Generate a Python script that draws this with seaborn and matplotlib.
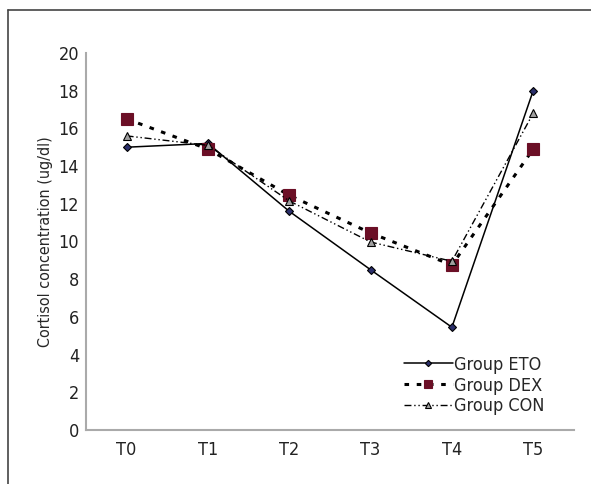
import pandas as pd
import seaborn as sns
import matplotlib.pyplot as plt
from matplotlib.lines import Line2D

# Dados
times = ["T0", "T1", "T2", "T3", "T4", "T5"]
eto = [15.0, 15.2, 11.6, 8.5, 5.45, 18.0]
dex = [16.5, 14.9, 12.45, 10.45, 8.75, 14.9]
con = [15.6, 15.1, 12.15, 9.97, 8.95, 16.8]

groups = ["Group ETO", "Group DEX", "Group CON"]
values = [eto, dex, con]

sns.set_style("white")
plt.rcParams['font.family'] = ['DejaVu Sans']
plt.rcParams['font.stretch'] = 'condensed'

fig = plt.figure(figsize=(5.91, 4.84), dpi=100)
ax = fig.add_axes([0.1455, 0.1116, 0.8255, 0.779])

styles = {
    "Group ETO": dict(marker="D", markersize=4, markerfacecolor="#2b2f6b",
                      markeredgecolor="black", linestyle="-", linewidth=1.1),
    "Group DEX": dict(marker="s", markersize=8, markerfacecolor="#6b0f26",
                      markeredgecolor="#6b0f26", linestyle=(0, (1.5, 2.5)), linewidth=2.2),
    "Group CON": dict(marker="^", markersize=6, markerfacecolor="#a0a0a0",
                      markeredgecolor="black", linestyle=(0, (5, 2, 1, 2, 1, 2)), linewidth=1.0),
}

for g, v in zip(groups, values):
    df = pd.DataFrame({"time": times, "value": v})
    sns.lineplot(data=df, x="time", y="value", ax=ax, color="black",
                 label=g, markeredgewidth=0.8, **styles[g])

ax.set_xlim(-0.5, 5.5)
ax.set_ylim(0, 20)
ax.set_yticks(range(0, 21, 2))
ax.set_xlabel("")
ax.set_ylabel("Cortisol concentration (ug/dl)", fontsize=11.5, labelpad=4)
ax.tick_params(axis="both", labelsize=13, length=0, colors="#222222")
ax.tick_params(axis="y", pad=5)
ax.tick_params(axis="x", pad=8)

for s in ["top", "right"]:
    ax.spines[s].set_visible(False)
for s in ["left", "bottom"]:
    ax.spines[s].set_color("#aaaaaa")
    ax.spines[s].set_linewidth(1.5)

leg = ax.legend(loc="lower right", bbox_to_anchor=(0.955, 0.02), frameon=False,
                fontsize=13, handlelength=2.7, handletextpad=0.1, labelspacing=0.15,
                borderaxespad=0, markerscale=0.8)

# Moldura externa
fig.add_artist(Line2D([8 / 591, 8 / 591], [0, 1 - 10 / 484], color="#444444", linewidth=1.2))
fig.add_artist(Line2D([8 / 591, 1], [1 - 10 / 484, 1 - 10 / 484], color="#444444", linewidth=1.2))

plt.savefig("out.png", dpi=100)
